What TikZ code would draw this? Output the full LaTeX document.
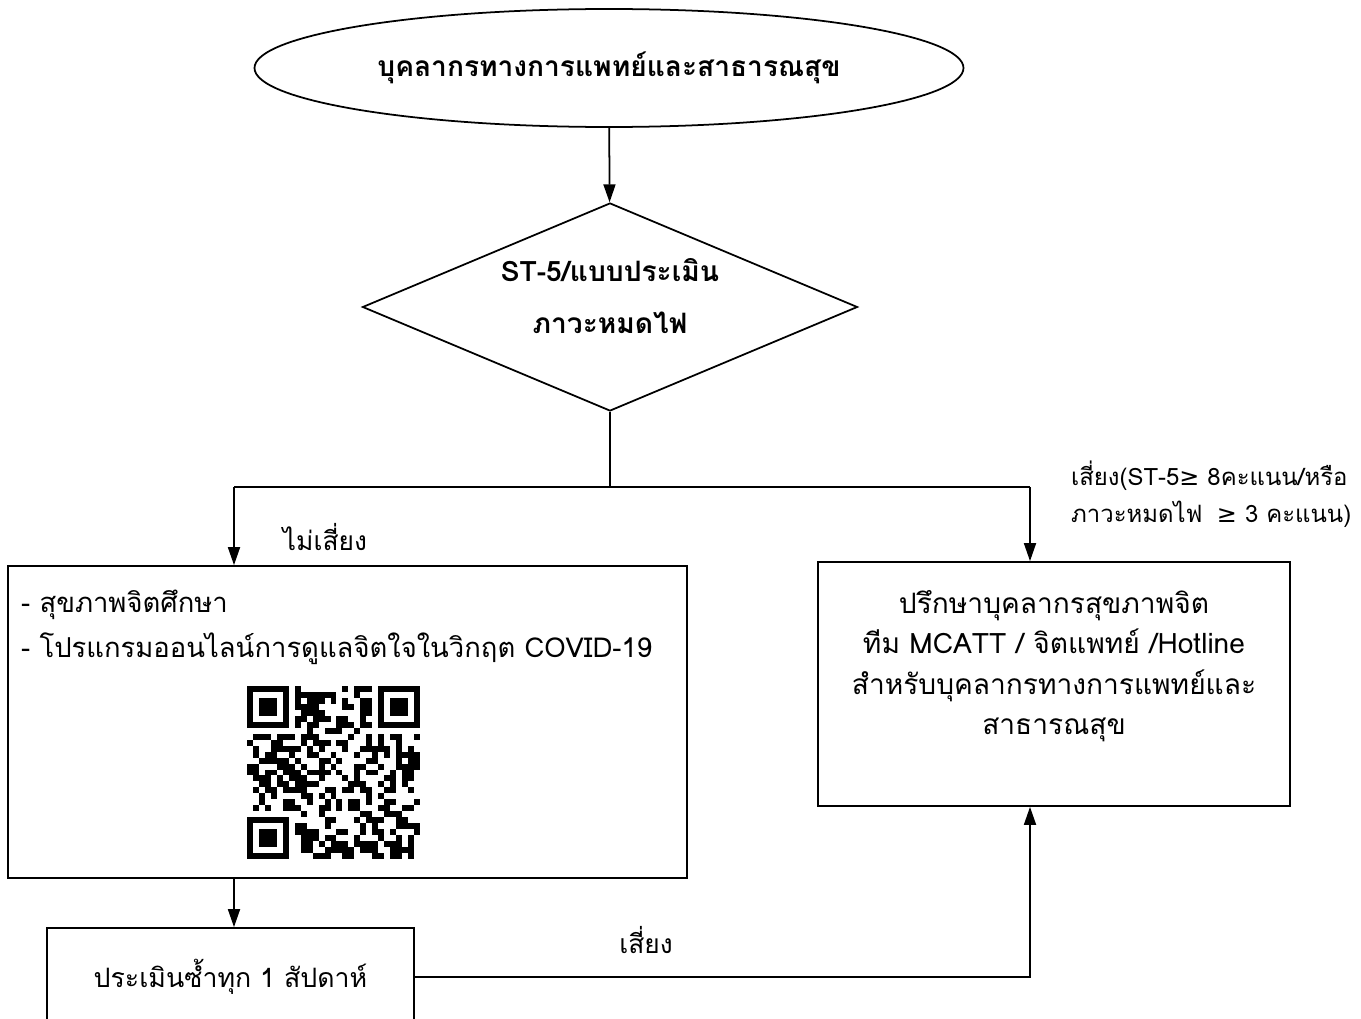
\documentclass[tikz,border=0pt]{standalone}
\usepackage{fontspec}
\setmainfont[Script=Thai]{Loma}
\newfontfamily\symfont{DejaVu Sans}
\usepackage{tikz}
\usetikzlibrary{arrows.meta,positioning,calc,shapes.geometric}

\begin{document}
\begin{tikzpicture}[
  box/.style={draw, line width=1pt, align=center, font=\fontsize{16}{22.7}\selectfont},
  arrow/.style={-{Triangle[length=3.6mm,width=2.4mm]}, line width=1pt},
  line/.style={line width=1pt},
  label/.style={font=\fontsize{15}{21}\selectfont, align=left},
]
  \useasboundingbox (0,0) rectangle (27.22,-20.38);
  \clip (0,0) rectangle (27.22,-20.38);

  % Shapes
  \node[box, ellipse, minimum width=14.18cm, minimum height=2.36cm, font=\fontsize{16}{22.7}\selectfont\bfseries] (staff) at (12.18,-1.36) {บุคลากรทางการแพทย์และสาธารณสุข};
  \node[box, diamond, aspect=2.38, minimum width=9.9cm, minimum height=4.16cm, inner sep=0pt] (assess) at (12.2,-6.14) {};
  \node[font=\fontsize{16}{30}\selectfont\bfseries, align=center] (assesstext) at (12.2,-5.92) {ST-5/แบบประเมิน\\ภาวะหมดไฟ};
  \coordinate (split) at (12.2,-9.74);
  \coordinate (left) at (4.68,-9.74);
  \coordinate (right) at (20.6,-9.74);
  \node[box, minimum width=13.58cm, minimum height=6.24cm] (care) at (6.95,-14.44) {};
  \node[box, minimum width=9.44cm, minimum height=4.88cm] (consult) at (21.08,-13.68) {};
  \node[align=center, font=\fontsize{16}{23}\selectfont] (consulttext) at (21.08,-13.32) {ปรึกษาบุคลากรสุขภาพจิต\\ทีม MCATT / จิตแพทย์ /Hotline\\สำหรับบุคลากรทางการแพทย์และ\\สาธารณสุข};
  \node[box, minimum width=7.34cm, minimum height=1.96cm, font=\fontsize{15.2}{21}\selectfont] (recheck) at (4.61,-19.54) {ประเมินซ้ำทุก 1 สัปดาห์};

  % Text in the left box
  \node[label, anchor=west, font=\fontsize{15.6}{25.5}\selectfont] (caretext) at (0.3,-12.55) {- สุขภาพจิตศึกษา\\- โปรแกรมออนไลน์การดูแลจิตใจในวิกฤต COVID-19};

  % QR code
  \begin{scope}[shift={(4.94,-13.72)}, x=0.1193cm, y=-0.1193cm]
    \pgfmathsetseed{23}
    \foreach \i in {0,...,28}{
      \foreach \j in {0,...,28}{
        \pgfmathtruncatemacro\inzone{(\i<8 && \j<8) || (\i>20 && \j<8) || (\i<8 && \j>20)}
        \pgfmathtruncatemacro\qrbit{(rnd<0.5)*(1-\inzone)}
        \ifnum\qrbit=1 \fill (\i,\j) rectangle ++(1,1); \fi
      }
    }
    \foreach \fx/\fy in {0/0, 22/0, 0/22}{
      \fill (\fx,\fy) rectangle ++(7,7);
      \fill[white] (\fx+1,\fy+1) rectangle ++(5,5);
      \fill (\fx+2,\fy+2) rectangle ++(3,3);
    }
  \end{scope}

  % Arrows
  \draw[arrow] (staff) -- (assess);
  \draw[line] (assess.south) -- (split);
  \draw[line] (left) -- (right);
  \draw[arrow] (left) -- (left |- care.north);
  \draw[arrow] (right) -- (right |- consult.north);
  \draw[arrow] (left |- care.south) -- (left |- recheck.north);
  \draw[arrow] (recheck.east) -| (right |- consult.south);

  % Labels
  \node[label] (safe) at (6.5,-10.74) {ไม่เสี่ยง};
  \node[label, anchor=west, font=\fontsize{13.6}{21}\selectfont] (risk) at (21.3,-9.88) {เสี่ยง(ST-5{\symfont≥} 8คะแนน/หรือ\\ภาวะหมดไฟ\hspace{0.6em}{\symfont≥} 3 คะแนน)};
  \node[label] (riskagain) at (12.92,-18.8) {เสี่ยง};
\end{tikzpicture}
\end{document}
